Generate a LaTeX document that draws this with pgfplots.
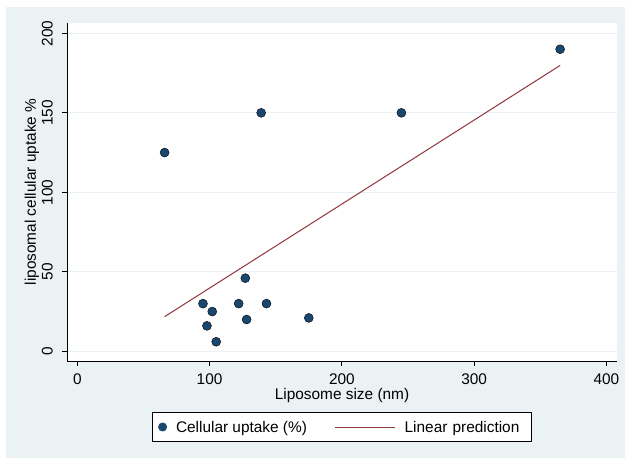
\documentclass[border=0pt]{standalone}
\usepackage{fontspec}
\setmainfont{Liberation Sans}
\usepackage{pgfplots}
\pgfplotsset{compat=1.18}

\definecolor{stnavy}{HTML}{1A476F}
\definecolor{stmaroon}{HTML}{90353B}
\definecolor{stbg}{HTML}{EAF2F3}

\begin{document}
\begin{tikzpicture}
\useasboundingbox (0,0) rectangle (626bp,459bp);
% graph region and plot region backgrounds
\fill[white] (0,0) rectangle (626bp,459bp);
\fill[stbg] (6bp,1bp) rectangle (625bp,452bp);
\fill[white] (67bp,98bp) rectangle (617bp,436bp);
\begin{axis}[
  at={(67bp,98bp)}, anchor=south west,
  scale only axis, width=550bp, height=338bp,
  xmin=-7.8, xmax=408, ymin=-6.1, ymax=206.5,
  axis x line*=bottom, axis y line*=left,
  axis line style={black, line width=0.9bp, -},
  xtick={0,100,200,300,400}, ytick={0,50,100,150,200},
  tick align=outside, major tick length=5bp,
  tick style={black, line width=0.9bp},
  ymajorgrids, grid style={stbg, line width=1.2bp},
  font=\fontsize{15.4bp}{18bp}\selectfont,
  /pgf/number format/assume math mode=true,
  yticklabel style={xshift=-9bp, rotate=90, anchor=south, inner sep=0pt},
  xticklabel style={yshift=-8bp, anchor=north, inner sep=0pt},
  xlabel={Liposome size (nm)},
  ylabel={liposomal cellular uptake \%},
  every axis x label/.style={at={(axis description cs:0.5,0)}, anchor=center, yshift=-35bp},
  every axis y label/.style={at={(axis description cs:0,0.5)}, xshift=-35bp, rotate=90, anchor=center},
  legend columns=2,
  legend style={at={(axis description cs:0.5,0)}, anchor=center, yshift=-66bp,
    draw=black, line width=0.9bp, fill=white,
    inner xsep=0pt, inner ysep=0pt, column sep=0pt, row sep=0pt,
    nodes={inner sep=0pt, text depth=0pt},
    font=\fontsize{15.4bp}{18bp}\selectfont},
]
\addplot[only marks, mark=*, mark size=4.5bp,
  mark options={draw=none, fill=stnavy},
  legend image code/.code={\path[draw=none, fill=none] (-10bp,-14.5bp) rectangle (13.4bp,14.5bp);
    \fill[stnavy] (0,0) circle (4bp);}]
  coordinates {
  (66,125) (139,150) (245,150) (365,190)
  (95,30) (102,25) (98,16) (105,6) (122,30)
  (127,46) (128,20) (143,30) (175,21)
};
\addlegendentry{Cellular uptake (\%)}
\addplot[stmaroon, line width=1bp,
  legend image code/.code={\path[draw=none, fill=none] (-28.4bp,-14.5bp) rectangle (69.3bp,14.5bp);
    \draw[stmaroon, line width=1bp] (0,0) -- (60bp,0);}]
  coordinates {(66,21.8) (365,179.8)};
\addlegendentry[text width=126.7bp, align=left]{Linear prediction}
\end{axis}
\end{tikzpicture}
\end{document}
